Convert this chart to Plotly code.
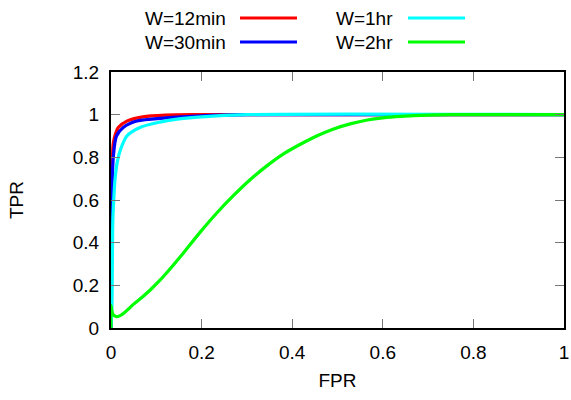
import plotly.graph_objects as go

# ---- data ----
series_names = ["W=12min", "W=30min", "W=1hr", "W=2hr"]
series_colors = ["#ff0000", "#0000ff", "#00ffff", "#00ff00"]

fpr_12min = [0, 0.001, 0.003, 0.005, 0.01, 0.016, 0.035, 0.07, 0.12, 0.2, 1.0]
tpr_12min = [0, 0.5, 0.78, 0.865, 0.91, 0.94, 0.97, 0.99, 0.998, 1.0, 1.0]

fpr_30min = [0, 0.001, 0.003, 0.005, 0.012, 0.027, 0.057, 0.12, 0.2, 0.3, 1.0]
tpr_30min = [0, 0.4, 0.7, 0.8, 0.9, 0.94, 0.97, 0.985, 0.995, 1.0, 1.0]

fpr_1hr = [0, 0.002, 0.003, 0.004, 0.006, 0.009, 0.014, 0.02, 0.035, 0.064, 0.108, 0.15, 0.2, 0.3, 1.0]
tpr_1hr = [0, 0.1, 0.3, 0.5, 0.6, 0.7, 0.78, 0.83, 0.9, 0.94, 0.965, 0.98, 0.99, 1.0, 1.0]

fpr_2hr = [0, 0.0, 0.004, 0.012, 0.02, 0.03, 0.04, 0.05, 0.068, 0.086, 0.105, 0.123, 0.16, 0.196,
           0.233, 0.27, 0.307, 0.344, 0.38, 0.417, 0.454, 0.49, 0.53, 0.566, 0.6, 0.64, 0.7,
           0.75, 1.0]
tpr_2hr = [0, 0.105, 0.065, 0.053, 0.058, 0.073, 0.092, 0.112, 0.143, 0.177, 0.217, 0.259, 0.352,
           0.447, 0.538, 0.62, 0.695, 0.76, 0.815, 0.86, 0.9, 0.932, 0.958, 0.975, 0.985, 0.992,
           0.998, 1.0, 1.0]

x_ticks = [0, 0.2, 0.4, 0.6, 0.8, 1]
y_ticks = [0, 0.2, 0.4, 0.6, 0.8, 1, 1.2]

xs = [fpr_12min, fpr_30min, fpr_1hr, fpr_2hr]
ys = [tpr_12min, tpr_30min, tpr_1hr, tpr_2hr]

# ---- layout geometry (pixels) ----
W, H = 571, 400
L, R, T, B = 111, 564, 72, 328
FONT = "Liberation Sans, Arial, sans-serif"
FS = 19

fig = go.Figure()
for x, y, n, c in zip(xs, ys, series_names, series_colors):
    fig.add_trace(go.Scatter(x=x, y=y, mode="lines", name=n,
                             line=dict(color=c, width=3.2, shape="spline", smoothing=0.8),
                             showlegend=False, cliponaxis=True, hoverinfo="skip"))

def px2paper_x(px):
    return (px - L) / (R - L)

def px2paper_y(py):
    return (B - py) / (B - T)

# gnuplot-style legend: text right-aligned, sample line to its right
legend_pos = [  # (text right px, line x0 px, line x1 px, y px)
    (228, 240, 297, 18),
    (228, 240, 297, 42),
    (395, 408, 465, 18),
    (395, 408, 465, 42),
]
annotations = []
shapes = []
for (tx, lx0, lx1, ly), n, c in zip(legend_pos, series_names, series_colors):
    annotations.append(dict(x=px2paper_x(tx), y=px2paper_y(ly), xref="paper", yref="paper",
                            text=n, showarrow=False, xanchor="right", yanchor="middle",
                            font=dict(family=FONT, size=FS, color="black")))
    shapes.append(dict(type="line", xref="paper", yref="paper",
                       x0=px2paper_x(lx0), x1=px2paper_x(lx1),
                       y0=px2paper_y(ly), y1=px2paper_y(ly),
                       line=dict(color=c, width=3.2)))

axis_common = dict(showgrid=False, zeroline=False, showline=True, linecolor="black",
                   linewidth=2, mirror="allticks", ticks="inside", ticklen=9,
                   tickwidth=1.3, tickcolor="#777777", automargin=False,
                   ticklabeloverflow="allow",
                   tickfont=dict(family=FONT, size=FS, color="black"))

fig.update_layout(
    width=W, height=H,
    margin=dict(l=L, r=W - R, t=T, b=H - B),
    plot_bgcolor="white", paper_bgcolor="white",
    font=dict(family=FONT, size=FS, color="black"),
    hovermode=False,
    xaxis=dict(range=[0, 1], tickvals=x_ticks, ticktext=[f"{v:g}" for v in x_ticks],
               title=dict(text="FPR", font=dict(family=FONT, size=FS), standoff=12),
               ticklabelstandoff=6, **axis_common),
    yaxis=dict(range=[0, 1.2], tickvals=y_ticks, ticktext=[f"{v:g}" for v in y_ticks],
               title=dict(text="TPR", font=dict(family=FONT, size=FS), standoff=44),
               ticklabelstandoff=6, **axis_common),
    annotations=annotations,
    shapes=shapes,
)

fig.write_html("out.html", config={"displayModeBar": False},
               post_script="document.body.style.margin='0px';document.body.style.overflow='hidden';")
